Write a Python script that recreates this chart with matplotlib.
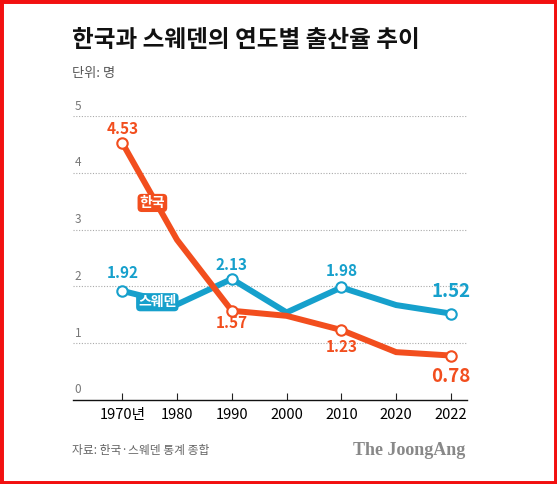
import matplotlib
matplotlib.use('agg')
import matplotlib.pyplot as plt
from matplotlib.patches import Rectangle

# data
years = ['1970년', '1980', '1990', '2000', '2010', '2020', '2022']
korea = [4.53, 2.82, 1.57, 1.48, 1.23, 0.84, 0.78]
sweden = [1.92, 1.68, 2.13, 1.54, 1.98, 1.67, 1.52]
labeled = [0, 2, 4, 6]
yticks = [0, 1, 2, 3, 4, 5]

KR = '#F24E1E'
SE = '#16A0CC'
plt.rcParams['font.family'] = ['Noto Sans CJK KR', 'DejaVu Sans']

fig = plt.figure(figsize=(5.57, 4.84), dpi=100)
ax = fig.add_axes([0.131, 0.174, 0.707, 0.586])
x = list(range(len(years)))

ax.plot(x, sweden, color=SE, lw=4.3, solid_joinstyle='miter', zorder=3)
ax.plot(x, korea, color=KR, lw=4.3, solid_joinstyle='miter', zorder=4)
ax.plot([x[i] for i in labeled], [sweden[i] for i in labeled], 'o', ms=7.5,
        mfc='white', mec=SE, mew=1.5, zorder=5)
ax.plot([x[i] for i in labeled], [korea[i] for i in labeled], 'o', ms=7.5,
        mfc='white', mec=KR, mew=1.5, zorder=6)

ax.set_xlim(-0.9, 6.29)
ax.set_ylim(0, 5)
for v in yticks[1:]:
    ax.axhline(v, color='#aaaaaa', lw=0.8, ls=(0, (1, 1.5)), zorder=1)
for v in yticks:
    ax.text(-0.87, v + 0.06, str(v), color='#777777', fontsize=8.5, va='bottom', ha='left')

ax.set_yticks([])
ax.set_xticks(x)
ax.set_xticklabels(years, fontsize=10.5, color='#000000')
ax.tick_params(axis='x', direction='in', length=5, width=0.8, pad=6, color='#222222')
for s in ['top', 'right', 'left']:
    ax.spines[s].set_visible(False)
ax.spines['bottom'].set_linewidth(1.0)
ax.spines['bottom'].set_color('#111111')

# value labels
se_off = {0: 13, 2: 10, 4: 12, 6: 16}
kr_off = {0: 10, 2: -9, 4: -12, 6: -15}
for i in labeled:
    big = (i == 6)
    ax.annotate(f'{sweden[i]:.2f}', (x[i], sweden[i]), xytext=(0, se_off[i]),
                textcoords='offset points', ha='center', va='center', color=SE,
                fontsize=13.5 if big else 11, fontweight='bold', zorder=7)
    ax.annotate(f'{korea[i]:.2f}', (x[i], korea[i]), xytext=(0, kr_off[i]),
                textcoords='offset points', ha='center', va='center', color=KR,
                fontsize=13.5 if big else 11, fontweight='bold', zorder=7)

# series tags
ax.text(0.55, 3.47, '한국', color='white', fontsize=10, fontweight='bold', ha='center',
        va='center', zorder=8,
        bbox=dict(boxstyle='round,pad=0.15,rounding_size=0.3', fc=KR, ec='none'))
ax.text(0.64, 1.72, '스웨덴', color='white', fontsize=10, fontweight='bold', ha='center',
        va='center', zorder=8,
        bbox=dict(boxstyle='round,pad=0.15,rounding_size=0.3', fc=SE, ec='none'))

fig.text(0.129, 0.917, '한국과 스웨덴의 연도별 출산율 추이', fontsize=17, fontweight='black',
         color='#111111', va='center', ha='left')
fig.text(0.129, 0.849, '단위: 명', fontsize=9.5, color='#555555', va='center', ha='left')
fig.text(0.129, 0.070, '자료: 한국·스웨덴 통계 종합', fontsize=8.5, color='#666666',
         va='center', ha='left')
fig.text(0.836, 0.070, 'The JoongAng', fontsize=13, fontweight='bold', color='#888888',
         family='Liberation Serif', va='center', ha='right')

fig.patches.append(Rectangle((0, 0), 1, 1, transform=fig.transFigure, fill=False,
                             edgecolor='#F21010', lw=5, zorder=10))

fig.savefig('out.png', dpi=100)
